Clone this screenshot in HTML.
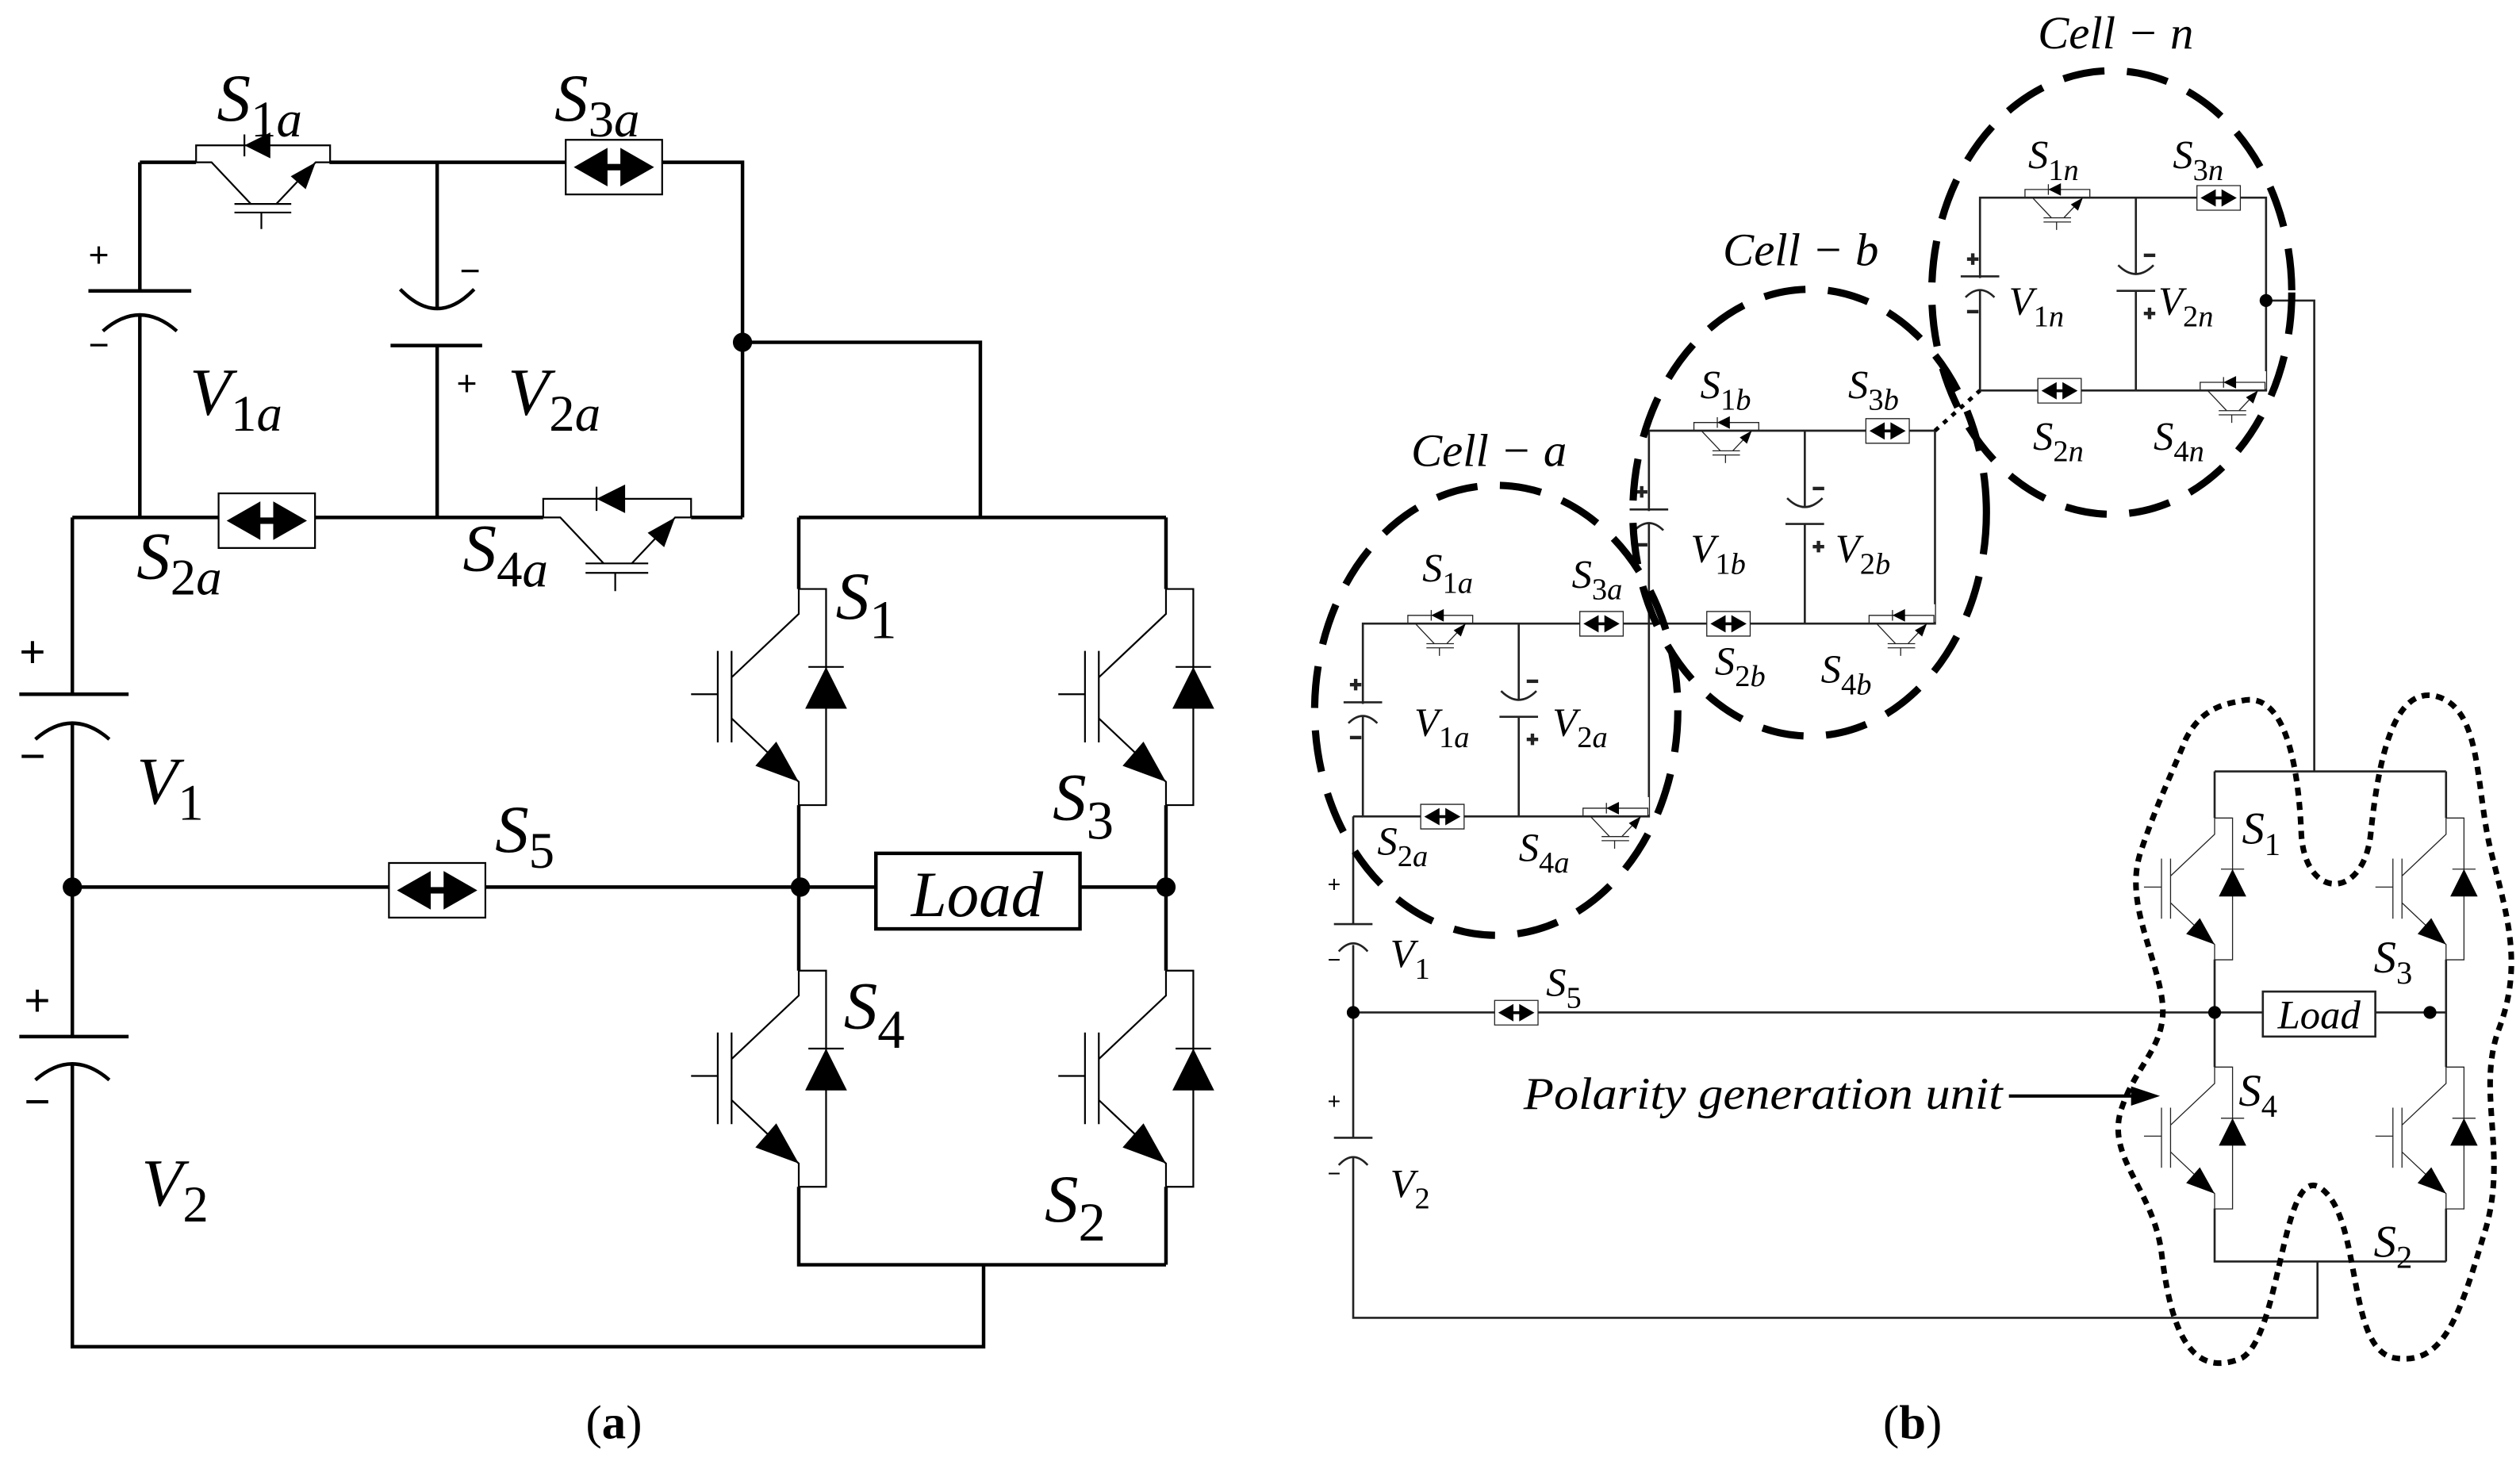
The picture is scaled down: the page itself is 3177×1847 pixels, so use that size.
<!DOCTYPE html>
<html><head><meta charset="utf-8"><style>
html,body{margin:0;padding:0;background:#fff}
svg{display:block}
.L{font-family:"Liberation Serif",serif;font-style:italic;font-size:42px;fill:#000}
.Lb{font-family:"Liberation Serif",serif;font-style:italic;font-size:25px;fill:#000}
.n{font-style:normal}
.pm{font-family:"Liberation Sans",sans-serif;font-size:22px;fill:#000}
.pms{font-family:"Liberation Sans",sans-serif;font-size:12px;fill:#000}
.cap{font-family:"Liberation Serif",serif;font-size:30px;fill:#000}
</style></head><body>
<svg width="3177" height="1847" viewBox="0 0 1568 911.6" xmlns="http://www.w3.org/2000/svg">
<defs>
<g id="ig">
<path d="M0,0 V15.5 L-41.8,55 M-41.8,38.5 V95.5 M-50.4,38.5 V95.5 M-67,65.5 H-50.4 M-41.8,80.5 L0,120 V134.5 M0,0 H17 V134.5 H0 M6,48.5 H28" fill="none" vector-effect="non-scaling-stroke"/>
<polygon points="0,120 -27,110 -14,95" stroke="none"/>
<polygon points="17,48.5 4,74.5 30,74.5" stroke="none"/>
</g>
<g id="bx">
<rect x="0" y="0" width="60" height="34" fill="#fff" vector-effect="non-scaling-stroke"/>
<polygon points="5,17 26,5 26,29" stroke="none"/>
<polygon points="55,17 34,5 34,29" stroke="none"/>
<rect x="25" y="15" width="10" height="4" stroke="none"/>
</g>
<g id="cell">
<path d="M0,0 H178 V120 H0 Z M0,0 V49 M0,59 V120 M97,0 V47 M97,58 V120" fill="none"/>
<rect x="-5" y="50" width="10" height="8" fill="#fff" stroke="none"/>
<rect x="92" y="48" width="10" height="9" fill="#fff" stroke="none"/>
<path d="M-12,49 H12 M-9,62 Q0,53 9,62 M86,42 Q97,53 108,42 M85,58 H109" fill="none"/>
<rect x="26" y="-12" width="44" height="11" fill="#fff" stroke="none"/>
<use href="#ig" transform="matrix(0,-0.3,0.3,0,28,0)"/>
<rect x="136" y="108" width="42" height="11" fill="#fff" stroke="none"/>
<use href="#ig" transform="matrix(0,-0.3,0.3,0,137,120)"/>
<use href="#bx" transform="translate(135,-7.5) scale(0.45)"/>
<use href="#bx" transform="translate(36,112.5) scale(0.45)"/>
<text x="-8" y="42" class="pms">+</text>
<text x="-8" y="75" class="pms">−</text>
<text x="102" y="40" class="pms">−</text>
<text x="102" y="76" class="pms">+</text>
</g>
</defs>

<!-- ============ (a) ============ -->
<g stroke="#000" stroke-width="2.2" fill="#000">
<path fill="none" d="M87,101 H122 M205,101 H462 V322 M462,213 H610 V322 M87,101 V181 M87,196 V322 M272,101 V192 M272,215 V322 M45,322 H338 M430,322 H462 M45,322 V432 M45,450 V645 M45,662 V838 H612 V787 M45,552 H498 M497,322 H725.5 M497,322 V366.5 M497,501 V604 M497,738.5 V787 H725.5 M725.5,322 V366.5 M725.5,501 V604 M725.5,738.5 V787 M498,552 H545 M672,552 H725.5"/>
<path fill="none" d="M55,181 H119 M64,206 Q87,186 110,206 M249,180 Q272,204 295,180 M243,215 H300 M12,432 H80 M22,460 Q45,440 68,460 M12,645 H80 M22,672 Q45,652 68,672"/>
<use href="#ig" transform="matrix(0,-0.62,0.62,0,122,101)"/>
<use href="#ig" transform="matrix(0,-0.684,0.684,0,338,322)"/>
<use href="#ig" transform="translate(497,366.5)"/>
<use href="#ig" transform="translate(725.5,366.5)"/>
<use href="#ig" transform="translate(497,604)"/>
<use href="#ig" transform="translate(725.5,604)"/>
<use href="#bx" transform="translate(352,87)"/>
<use href="#bx" transform="translate(136,307)"/>
<use href="#bx" transform="translate(242,537)"/>
<rect x="545" y="531" width="127" height="47" fill="#fff"/>
<circle cx="462" cy="213" r="6" stroke="none"/>
<circle cx="45" cy="552" r="6" stroke="none"/>
<circle cx="498" cy="552" r="6" stroke="none"/>
<circle cx="725.5" cy="552" r="6" stroke="none"/>
</g>
<text x="55" y="166" class="pm">+</text>
<text x="55" y="222" class="pm">−</text>
<text x="286" y="176" class="pm">−</text>
<text x="284" y="246" class="pm">+</text>
<text x="12" y="415" class="pm" style="font-size:28px">+</text>
<text x="12" y="480" class="pm" style="font-size:28px">−</text>
<text x="15" y="632" class="pm" style="font-size:28px">+</text>
<text x="15" y="695" class="pm" style="font-size:28px">−</text>
<text x="135" y="75" class="L">S<tspan dy="10" style="font-size:32px" class="n">1</tspan><tspan style="font-size:32px">a</tspan></text>
<text x="345" y="75" class="L">S<tspan dy="10" style="font-size:32px" class="n">3</tspan><tspan style="font-size:32px">a</tspan></text>
<text x="118" y="258" class="L">V<tspan dy="10" style="font-size:32px" class="n">1</tspan><tspan style="font-size:32px">a</tspan></text>
<text x="316" y="258" class="L">V<tspan dy="10" style="font-size:32px" class="n">2</tspan><tspan style="font-size:32px">a</tspan></text>
<text x="85" y="360" class="L">S<tspan dy="10" style="font-size:32px" class="n">2</tspan><tspan style="font-size:32px">a</tspan></text>
<text x="288" y="355" class="L">S<tspan dy="10" style="font-size:32px" class="n">4</tspan><tspan style="font-size:32px">a</tspan></text>
<text x="85" y="500" class="L">V<tspan dy="10" style="font-size:32px" class="n">1</tspan></text>
<text x="88" y="750" class="L">V<tspan dy="10" style="font-size:32px" class="n">2</tspan></text>
<text x="308" y="530" class="L">S<tspan dy="10" style="font-size:32px" class="n">5</tspan></text>
<text x="520" y="385" class="L">S<tspan dy="12" style="font-size:34px" class="n">1</tspan></text>
<text x="655" y="510" class="L">S<tspan dy="12" style="font-size:34px" class="n">3</tspan></text>
<text x="525" y="640" class="L">S<tspan dy="12" style="font-size:34px" class="n">4</tspan></text>
<text x="650" y="760" class="L">S<tspan dy="12" style="font-size:34px" class="n">2</tspan></text>
<text x="608" y="570" class="L" text-anchor="middle" style="font-size:40px">Load</text>

<!-- ============ (b) ============ -->
<g stroke="#222" stroke-width="1.3" fill="#000">
<use href="#cell" transform="translate(848,388)"/>
<use href="#cell" transform="translate(1026,268)"/>
<use href="#cell" transform="translate(1232,123)"/>
<path fill="none" d="M842,508 H848 M842,508 V575 M842,588 V708 M842,720 V820 H1442 V785 M1410,187 H1440 V480 M1378,480 H1522 M1378,480 V509 M1378,597 V664 M1378,752 V785 H1522 M1522,480 V509 M1522,597 V664 M1522,752 V785 M842,630 H1408 M1478,630 H1522"/>
<path fill="none" d="M830,575 H854 M833,592 Q842,582 851,592 M830,708 H854 M833,725 Q842,715 851,725"/>
<path fill="none" stroke="#000" stroke-width="2.5" stroke-dasharray="3 4" d="M1204,268 L1232,243"/>
<use href="#ig" transform="translate(1378,509) scale(0.656)"/>
<use href="#ig" transform="translate(1522,509) scale(0.656)"/>
<use href="#ig" transform="translate(1378,664) scale(0.656)"/>
<use href="#ig" transform="translate(1522,664) scale(0.656)"/>
<use href="#bx" transform="translate(930,622.5) scale(0.45)"/>
<rect x="1408" y="617" width="70" height="28" fill="#fff"/>
<circle cx="1410" cy="187" r="4" stroke="none"/>
<circle cx="842" cy="630" r="4" stroke="none"/>
<circle cx="1378" cy="630" r="4" stroke="none"/>
<circle cx="1512" cy="630" r="4" stroke="none"/>
<path fill="none" stroke="#000" stroke-width="2" d="M1250,682 H1330"/>
<polygon points="1344,682 1326,676 1326,688" stroke="none"/>
</g>
<text x="826" y="555" class="pms" style="font-size:14px">+</text>
<text x="826" y="602" class="pms" style="font-size:14px">−</text>
<text x="826" y="690" class="pms" style="font-size:14px">+</text>
<text x="826" y="735" class="pms" style="font-size:14px">−</text>
<g fill="none" stroke="#000" stroke-width="4.5" stroke-dasharray="26 14">
<ellipse cx="931" cy="442" rx="113" ry="140"/>
<ellipse cx="1126" cy="319" rx="110" ry="139"/>
<ellipse cx="1314" cy="182" rx="112" ry="138"/>
</g>
<path fill="none" stroke="#000" stroke-width="3.5" stroke-dasharray="5 4" d="M1395,436 C1420,430 1430,470 1432,520 C1435,560 1470,560 1475,520 C1480,470 1490,428 1515,433 C1545,440 1540,490 1550,530 C1560,570 1570,600 1555,640 C1540,680 1562,720 1545,770 C1530,820 1520,850 1490,845 C1460,840 1470,760 1445,740 C1420,720 1420,830 1395,845 C1360,860 1350,820 1345,780 C1340,740 1310,720 1320,690 C1330,660 1350,650 1345,620 C1340,590 1322,560 1332,530 C1342,500 1352,480 1360,460 C1370,440 1385,438 1395,436 Z"/>
<text x="948" y="690" class="Lb" style="font-size:28px" textLength="298" lengthAdjust="spacingAndGlyphs">Polarity generation unit</text>
<text x="878" y="290" class="Lb" style="font-size:29px">Cell − a</text>
<text x="1072" y="165" class="Lb" style="font-size:29px">Cell − b</text>
<text x="1268" y="30" class="Lb" style="font-size:29px">Cell − n</text>
<g class="Lb">
<text x="885" y="362">S<tspan dy="7" style="font-size:19px" class="n">1</tspan><tspan style="font-size:19px">a</tspan></text>
<text x="978" y="366">S<tspan dy="7" style="font-size:19px" class="n">3</tspan><tspan style="font-size:19px">a</tspan></text>
<text x="880" y="458">V<tspan dy="7" style="font-size:19px" class="n">1</tspan><tspan style="font-size:19px">a</tspan></text>
<text x="966" y="458">V<tspan dy="7" style="font-size:19px" class="n">2</tspan><tspan style="font-size:19px">a</tspan></text>
<text x="857" y="532">S<tspan dy="7" style="font-size:19px" class="n">2</tspan><tspan style="font-size:19px">a</tspan></text>
<text x="945" y="536">S<tspan dy="7" style="font-size:19px" class="n">4</tspan><tspan style="font-size:19px">a</tspan></text>
<text x="1058" y="248">S<tspan dy="7" style="font-size:19px" class="n">1</tspan><tspan style="font-size:19px">b</tspan></text>
<text x="1150" y="248">S<tspan dy="7" style="font-size:19px" class="n">3</tspan><tspan style="font-size:19px">b</tspan></text>
<text x="1052" y="350">V<tspan dy="7" style="font-size:19px" class="n">1</tspan><tspan style="font-size:19px">b</tspan></text>
<text x="1142" y="350">V<tspan dy="7" style="font-size:19px" class="n">2</tspan><tspan style="font-size:19px">b</tspan></text>
<text x="1067" y="420">S<tspan dy="7" style="font-size:19px" class="n">2</tspan><tspan style="font-size:19px">b</tspan></text>
<text x="1133" y="425">S<tspan dy="7" style="font-size:19px" class="n">4</tspan><tspan style="font-size:19px">b</tspan></text>
<text x="1262" y="105">S<tspan dy="7" style="font-size:19px" class="n">1</tspan><tspan style="font-size:19px">n</tspan></text>
<text x="1352" y="105">S<tspan dy="7" style="font-size:19px" class="n">3</tspan><tspan style="font-size:19px">n</tspan></text>
<text x="1250" y="196">V<tspan dy="7" style="font-size:19px" class="n">1</tspan><tspan style="font-size:19px">n</tspan></text>
<text x="1343" y="196">V<tspan dy="7" style="font-size:19px" class="n">2</tspan><tspan style="font-size:19px">n</tspan></text>
<text x="1265" y="280">S<tspan dy="7" style="font-size:19px" class="n">2</tspan><tspan style="font-size:19px">n</tspan></text>
<text x="1340" y="280">S<tspan dy="7" style="font-size:19px" class="n">4</tspan><tspan style="font-size:19px">n</tspan></text>
<text x="865" y="602">V<tspan dy="7" style="font-size:19px" class="n">1</tspan></text>
<text x="962" y="620">S<tspan dy="7" style="font-size:19px" class="n">5</tspan></text>
<text x="865" y="745">V<tspan dy="7" style="font-size:19px" class="n">2</tspan></text>
<text x="1395" y="525" style="font-size:28px">S<tspan dy="7" style="font-size:20px" class="n">1</tspan></text>
<text x="1477" y="605" style="font-size:28px">S<tspan dy="7" style="font-size:20px" class="n">3</tspan></text>
<text x="1393" y="688" style="font-size:28px">S<tspan dy="7" style="font-size:20px" class="n">4</tspan></text>
<text x="1477" y="782" style="font-size:28px">S<tspan dy="7" style="font-size:20px" class="n">2</tspan></text>
<text x="1443" y="640" text-anchor="middle">Load</text>
</g>
<text x="382" y="895" class="cap" text-anchor="middle">(<tspan font-weight="bold">a</tspan>)</text>
<text x="1190" y="895" class="cap" text-anchor="middle">(<tspan font-weight="bold">b</tspan>)</text>
</svg>
</body></html>
